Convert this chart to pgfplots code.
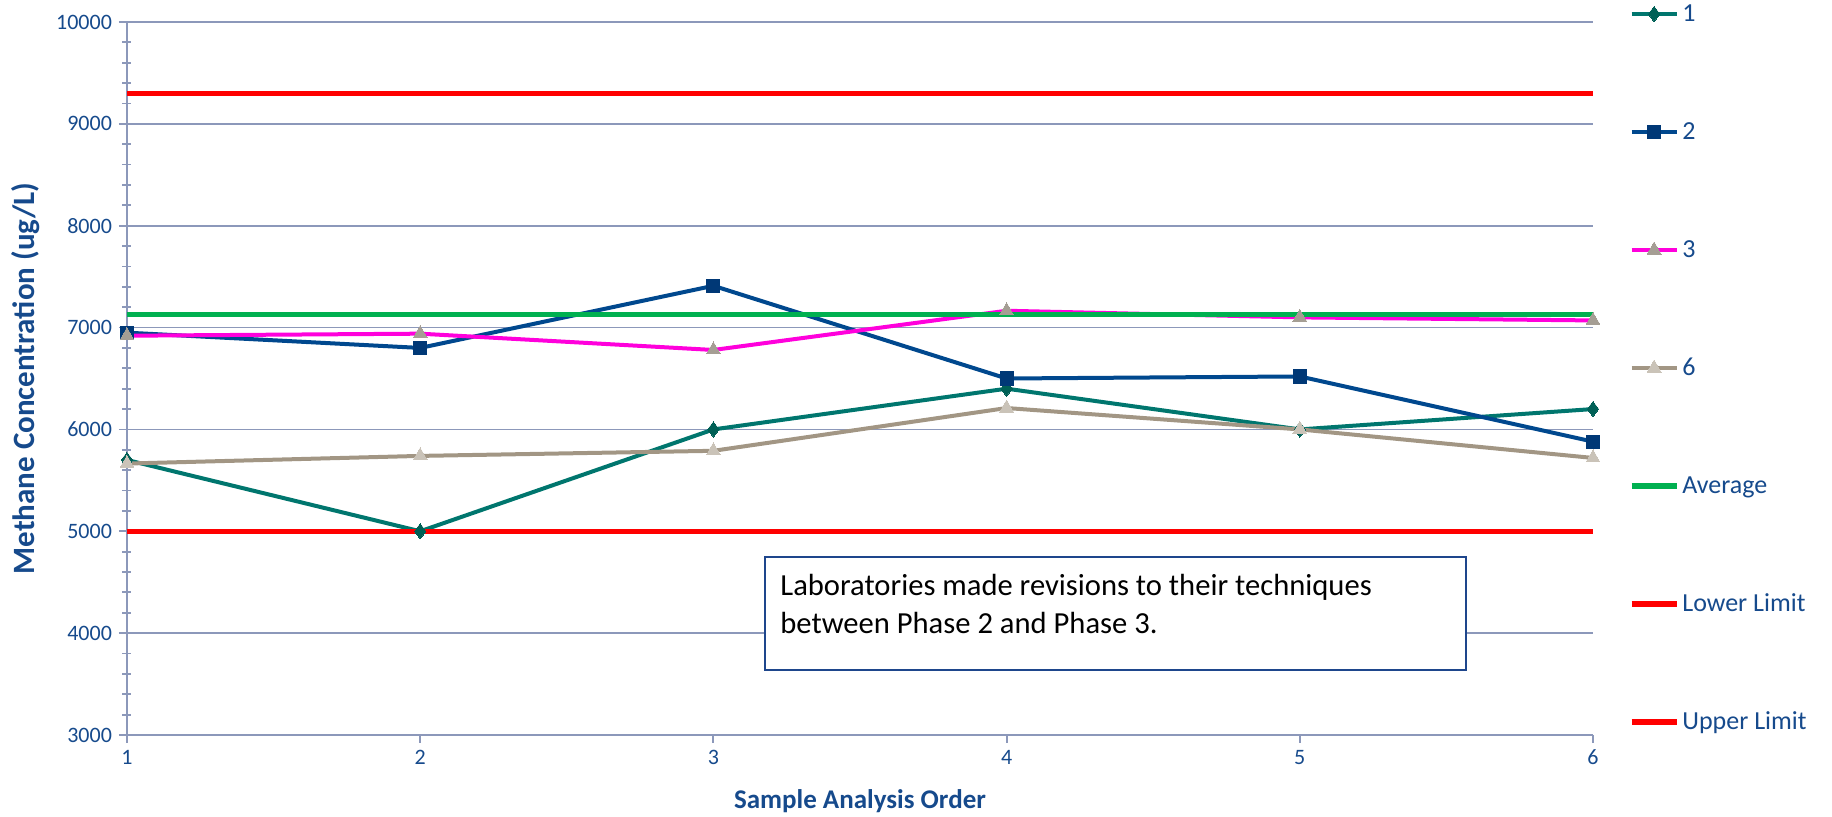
\documentclass[border=0pt]{standalone}
\usepackage{pgfplots}
\pgfplotsset{compat=1.18}
\usepackage{fontspec}
\setmainfont{Carlito}

\definecolor{labelblue}{RGB}{22,74,140}
\definecolor{gridc}{RGB}{140,152,186}
\definecolor{sOne}{RGB}{0,118,110}
\definecolor{sOneMark}{RGB}{0,96,86}
\definecolor{sTwo}{RGB}{0,72,142}
\definecolor{sTwoMark}{RGB}{0,56,118}
\definecolor{sThree}{RGB}{255,0,220}
\definecolor{sThreeMark}{RGB}{165,158,148}
\definecolor{sSix}{RGB}{162,150,132}
\definecolor{sSixMark}{RGB}{202,195,184}
\definecolor{avgc}{RGB}{0,176,80}
\definecolor{limc}{RGB}{255,0,0}
\definecolor{boxc}{RGB}{30,70,140}

\begin{document}
\begin{tikzpicture}
\useasboundingbox (-63.5pt,-41pt) rectangle (852.5pt,367.5pt);
\begin{axis}[
    scale only axis,
    width=733pt, height=356.5pt,
    xmin=1, xmax=6,
    ymin=3000, ymax=10000,
    xtick={1,...,6},
    ytick={3000,4000,...,10000},
    scaled y ticks=false,
    minor y tick num=4,
    axis x line*=bottom, axis y line*=left,
    axis line style={gridc, line width=0.9pt, -},
    tick style={gridc, line width=0.9pt},
    tick align=outside,
    major tick length=4pt,
    minor tick length=4.5pt,
    minor y tick style={xshift=2.25pt},
    ymajorgrids,
    grid style={gridc, line width=0.9pt},
    /pgf/number format/assume math mode=true,
    /pgf/number format/1000 sep={},
    tick label style={font=\fontsize{11}{13}\selectfont, text=labelblue},
    clip=false,
    xlabel={Sample Analysis Order},
    ylabel={Methane Concentration (ug/L)},
    every axis x label/.style={at={(rel axis cs:0.5,0)}, anchor=center, yshift=-33pt,
        font=\fontsize{13.5}{15}\selectfont\bfseries, text=labelblue},
    every axis y label/.style={at={(rel axis cs:0,0.5)}, xshift=-50.5pt, anchor=center, rotate=90,
        font=\fontsize{15.5}{17}\selectfont\bfseries, text=labelblue},
    legend style={at={(rel axis cs:1.0242,1.03)}, anchor=north west, draw=none, fill=none,
        inner sep=0pt, row sep=46pt, column sep=1.5pt,
        font=\fontsize{13}{15}\selectfont, text=labelblue,
        nodes={text height=10pt, text depth=3pt, inner sep=0pt}},
    legend cell align=left,
    legend image code/.code={\draw[mark repeat=2, mark phase=2, #1]
        plot coordinates {(0pt,0pt) (11.25pt,0pt) (22.5pt,0pt)};},
]
\addplot[sOne, line width=2pt, mark=diamond*, mark size=3.8pt,
    mark options={fill=sOneMark, draw=sOneMark, line width=0pt}]
    coordinates {(1,5700) (2,5000) (3,6000) (4,6400) (5,6000) (6,6200)};
\addlegendentry{1}
\addplot[sTwo, line width=2pt, mark=square*, mark size=3.3pt,
    mark options={fill=sTwoMark, draw=sTwoMark, line width=0pt}]
    coordinates {(1,6950) (2,6800) (3,7410) (4,6500) (5,6520) (6,5880)};
\addlegendentry{2}
\addplot[sThree, line width=2pt, mark=triangle*, mark size=4pt,
    mark options={fill=sThreeMark, draw=sThreeMark, line width=0pt}]
    coordinates {(1,6920) (2,6940) (3,6780) (4,7165) (5,7100) (6,7070)};
\addlegendentry{3}
\addplot[sSix, line width=2pt, mark=triangle*, mark size=4pt,
    mark options={fill=sSixMark, draw=sSixMark, line width=0pt}]
    coordinates {(1,5665) (2,5740) (3,5790) (4,6210) (5,6000) (6,5720)};
\addlegendentry{6}
\addplot[avgc, line width=2.75pt] coordinates {(1,7130) (6,7130)};
\addlegendentry{Average}
\addplot[limc, line width=2.75pt] coordinates {(1,5000) (6,5000)};
\addlegendentry{Lower Limit}
\addplot[limc, line width=2.75pt] coordinates {(1,9300) (6,9300)};
\addlegendentry{Upper Limit}

\draw[boxc, line width=0.8pt, fill=white] (axis cs:3.176,4745) rectangle (axis cs:5.567,3637);
\node[anchor=north west, align=left, inner sep=0pt, font=\fontsize{15.3}{19}\selectfont]
    at (axis cs:3.176,4745) [xshift=7.5pt, yshift=-8.5pt]
    {Laboratories made revisions to their techniques\\between Phase 2 and Phase 3.};
\end{axis}
\end{tikzpicture}
\end{document}
